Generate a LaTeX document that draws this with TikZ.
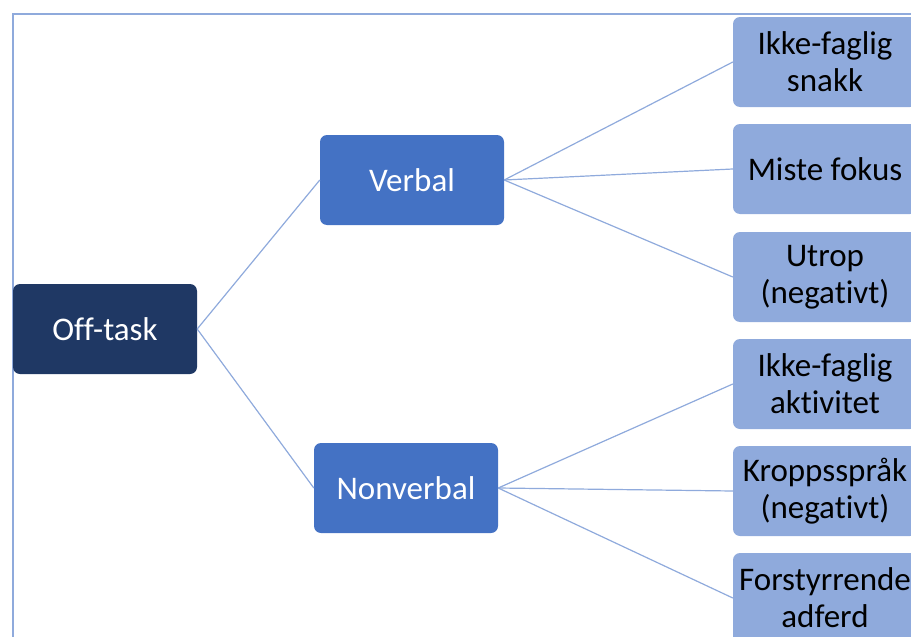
\documentclass[tikz,border=0pt]{standalone}
\usepackage{fontspec}
\setmainfont[Ligatures=NoCommon]{Carlito}
\usepackage{tikz}
\usetikzlibrary{positioning}

\definecolor{navy}{HTML}{1F3864}
\definecolor{midblue}{HTML}{4472C4}
\definecolor{lightblue}{HTML}{8FAADC}

\begin{document}
\begin{tikzpicture}[x=1pt,y=-1pt,
    box/.style={rounded corners=7pt, minimum width=184pt, minimum height=90pt,
        inner sep=0pt, align=center, font=\fontsize{33}{37}\selectfont},
    top/.style={box, fill=navy, text=white},
    mid/.style={box, fill=midblue, text=white},
    leaf/.style={box, fill=lightblue, text=black},
    link/.style={draw=lightblue, line width=1.2pt}]
        \useasboundingbox (0,0) rectangle (911,637);
        \draw[lightblue, line width=2.2pt] (13,660) -- (13,14) -- (930,14);

        \node[top] (off) at (105,329) {Off-task};
        \node[mid] (verbal) at (412,180) {Verbal};
        \node[mid] (nonverbal) at (406,488) {Nonverbal};

        \node[leaf] (snakk) at (825,62) {Ikke-faglig\\snakk};
        \node[leaf] (fokus) at (825,169) {Miste fokus};
        \node[leaf] (utrop) at (825,277) {Utrop\\(negativt)};
        \node[leaf] (aktivitet) at (825,384) {Ikke-faglig\\aktivitet};
        \node[leaf] (kropp) at (825,491) {Kroppsspråk\\(negativt)};
        \node[leaf] (adferd) at (825,598) {Forstyrrende\\adferd};

        \draw[link] (off.east) -- (verbal.west);
        \draw[link] (off.east) -- (nonverbal.west);
        \draw[link] (verbal.east) -- (snakk.west);
        \draw[link] (verbal.east) -- (fokus.west);
        \draw[link] (verbal.east) -- (utrop.west);
        \draw[link] (nonverbal.east) -- (aktivitet.west);
        \draw[link] (nonverbal.east) -- (kropp.west);
        \draw[link] (nonverbal.east) -- (adferd.west);
    \end{tikzpicture}
\end{document}
